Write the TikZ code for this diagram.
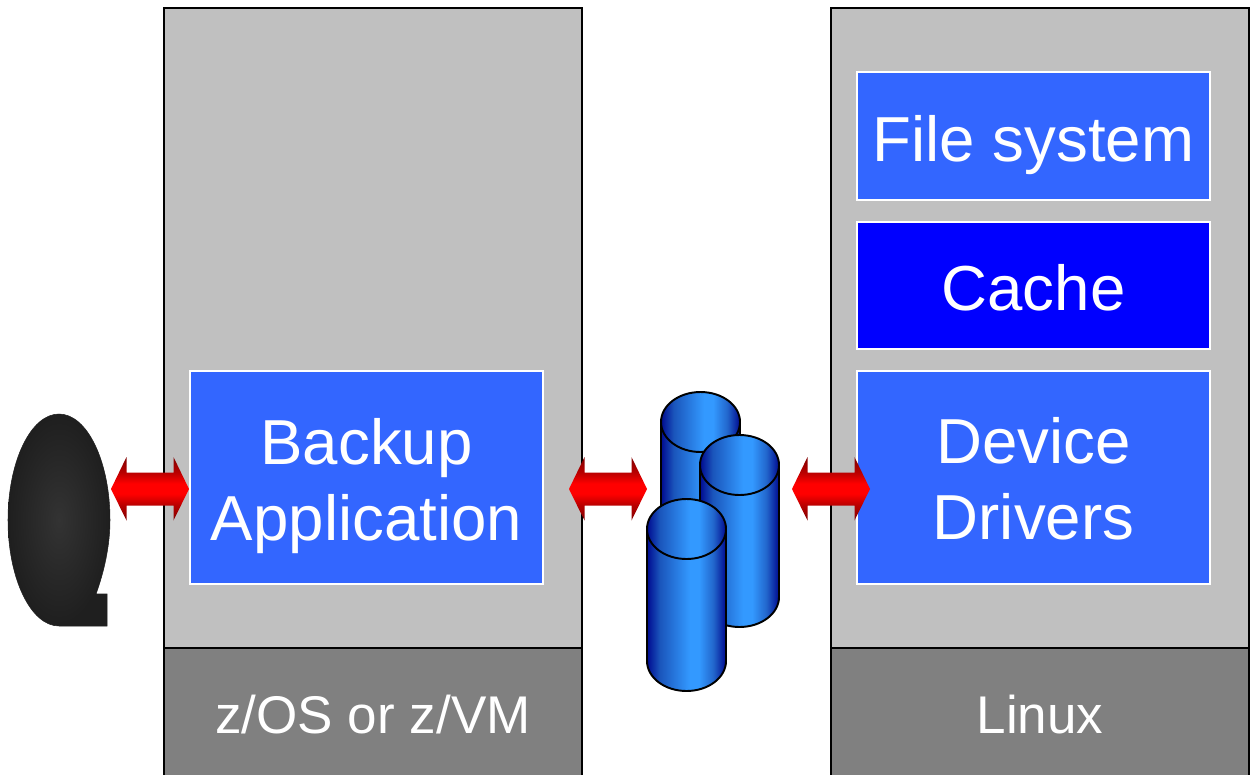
\documentclass[tikz,border=0pt]{standalone}
\usepackage{fontspec}
\setmainfont{Liberation Sans}
\definecolor{graybox}{HTML}{C0C0C0}
\definecolor{osbox}{HTML}{808080}
\definecolor{bluebox}{HTML}{3366FF}
\definecolor{cachebox}{HTML}{0000FF}
\definecolor{arrowedge}{HTML}{800000}
\definecolor{arrowmid}{HTML}{B80000}
\definecolor{cyledge}{HTML}{000A90}
\definecolor{cylmid}{HTML}{1A55BB}
\definecolor{cylmidb}{HTML}{2266CC}
\definecolor{cyllight}{HTML}{3399FF}
\pgfdeclareverticalshading{redarrow}{100bp}{color(0bp)=(arrowedge);color(25bp)=(arrowedge);color(37bp)=(arrowmid);color(46bp)=(red);color(54bp)=(red);color(63bp)=(arrowmid);color(75bp)=(arrowedge);color(100bp)=(arrowedge)}
\pgfdeclarehorizontalshading{cylshade}{100bp}{color(0bp)=(cyledge);color(25bp)=(cyledge);color(33bp)=(cylmid);color(52bp)=(cyllight);color(58bp)=(cyllight);color(67bp)=(cylmidb);color(75bp)=(cyledge);color(100bp)=(cyledge)}
\newcommand\blockarrow[2]{%
  \shade[shading=redarrow] (#1) -- ++(15.5,-32) -- ++(0,15.5) -- ($(#2)+(-15.5,-16.5)$) -- ++(0,-15.5) -- (#2) -- ++(-15.5,31.5) -- ++(0,-15) -- ($(#1)+(15.5,16.5)$) -- ++(0,15) -- cycle;}
\newcommand\disk[3]{% left x, ellipse centre y, bottom ellipse centre y
  \path[cylfill] (#1,#2) -- (#1,#3) .. controls (#1,{#3+16.6}) and ({#1+17.7},{#3+30}) .. ({#1+39.5},{#3+30}) .. controls ({#1+61.3},{#3+30}) and ({#1+79},{#3+16.6}) .. ({#1+79},#3) -- ({#1+79},#2) .. controls ({#1+79},{#2-16.6}) and ({#1+61.3},{#2-30}) .. ({#1+39.5},{#2-30}) .. controls ({#1+17.7},{#2-30}) and (#1,{#2-16.6}) .. (#1,#2) -- cycle;
  \draw[cylline] (#1,#2) .. controls (#1,{#2+16.6}) and ({#1+17.7},{#2+30}) .. ({#1+39.5},{#2+30}) .. controls ({#1+61.3},{#2+30}) and ({#1+79},{#2+16.6}) .. ({#1+79},#2);}
\newcommand\lowered[2]{\raisebox{-#1}[\height][\depth]{#2}}
\usetikzlibrary{calc}
\begin{document}
\begin{tikzpicture}[x=0.02cm,y=-0.02cm,
  hostbox/.style={draw=black,line width=1.1pt,fill=graybox,minimum width=8.36cm,minimum height=12.8cm,inner sep=0pt},
  osboxstyle/.style={draw=black,line width=1.1pt,fill=osbox,minimum width=8.36cm,minimum height=2.8cm,inner sep=0pt},
  osfont/.style={text=white,font=\fontsize{30.2}{36}\selectfont},
  bluestyle/.style={draw=white,line width=1.1pt,fill=bluebox,text=white,align=center,inner sep=0pt,minimum width=7.06cm,font=\fontsize{36.2}{43.2}\selectfont},
  cylfill/.style={draw=black,line width=1.1pt,shading=cylshade},
  cylline/.style={black,line width=1.1pt}]
\useasboundingbox (0,0) rectangle (1250,774);
\clip (0,0) rectangle (1250,774);
% hosts
\node[hostbox] (lefthost) at (373,328) {};
\node[hostbox] (righthost) at (1040,328) {};
\node[osboxstyle] (leftos) at (373,718) {};
\node[osboxstyle] (rightos) at (1040,718) {};
\node[osfont,anchor=base] (leftoslabel) at (373,733) {z/OS or z/VM};
\node[osfont,anchor=base] (rightoslabel) at (1040,733) {Linux};
% blue boxes
\node[bluestyle,minimum height=4.26cm] (backup) at (366.5,477.5) {\lowered{5pt}{Backup}\\\lowered{5pt}{Application}};
\node[bluestyle,minimum height=2.56cm] (filesystem) at (1033.5,136) {\lowered{5.1pt}{File system}};
\node[bluestyle,minimum height=2.54cm,fill=cachebox] (cache) at (1033.5,285.5) {\lowered{1.1pt}{Cache}};
\node[bluestyle,minimum height=4.26cm] (drivers) at (1033.5,477.5) {\lowered{0.6pt}{Device}\\\lowered{0.6pt}{Drivers}};
% tape
\shade[draw=black!88,line width=0.3pt,inner color=black!80,outer color=black!88] (59,626) .. controls (30.8,626) and (8,578.5) .. (8,520) .. controls (8,461.5) and (30.8,414) .. (59,414) .. controls (87.2,414) and (110,461.5) .. (110,520) .. controls (110,546) and (104,572) .. (96,594) -- (107,594) -- (107,626) -- cycle;
% arrow ends
\coordinate (tapeport) at (111,489);
\coordinate (backupin) at (189,489);
\coordinate (backupout) at (569,489);
\coordinate (diskin) at (647,489);
\coordinate (diskout) at (792,489);
\coordinate (driversin) at (870,489);
\blockarrow{tapeport}{backupin}
\blockarrow{backupout}{diskin}
\blockarrow{diskout}{driversin}
% disks
\disk{661}{422}{554}
\disk{700}{465}{597}
\disk{647}{529}{661}
\end{tikzpicture}
\end{document}
